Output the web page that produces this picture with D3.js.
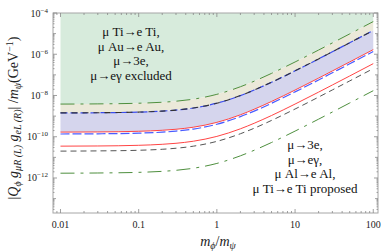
<!DOCTYPE html>
<html>
<head>
<meta charset="utf-8">
<script src="https://cdn.jsdelivr.net/npm/d3@7"></script>
<style>
  body { margin: 0; background: #fff; }
  svg { display: block; font-family: 'Liberation Serif', 'DejaVu Serif', serif; }
</style>
</head>
<body>
<div id="chart"></div>
<script>
// mass ratio m_phi / m_psi sampled along every curve
const ratio = [0.01, 0.03, 0.1, 0.2, 0.3, 0.5, 1, 2, 3, 5, 10, 20, 30, 50, 100];

// current limits (excluded)
const excludedDashDot = [3.84e-9, 3.92e-9, 4.22e-9, 4.71e-9, 5.28e-9, 6.65e-9, 1.14e-8, 2.66e-8, 4.94e-8, 1.18e-7, 4.22e-7, 1.6e-6, 3.54e-6, 9.7e-6, 3.84e-5];
const excludedDashed = [1.43e-9, 1.46e-9, 1.57e-9, 1.75e-9, 1.96e-9, 2.47e-9, 4.24e-9, 9.89e-9, 1.84e-8, 4.38e-8, 1.57e-7, 5.94e-7, 1.32e-6, 3.61e-6, 1.43e-5];
const excludedSolid = [1.68e-10, 1.71e-10, 1.84e-10, 2.06e-10, 2.31e-10, 2.9e-10, 4.98e-10, 1.16e-9, 2.16e-9, 5.14e-9, 1.84e-8, 6.98e-8, 1.55e-7, 4.24e-7, 1.68e-6];
const excludedBlue = [1.36e-10, 1.39e-10, 1.5e-10, 1.67e-10, 1.88e-10, 2.36e-10, 4.05e-10, 9.44e-10, 1.75e-9, 4.18e-9, 1.5e-8, 5.68e-8, 1.26e-7, 3.44e-7, 1.36e-6];

// future sensitivities (proposed)
const proposedSolid = [3.5e-11, 3.57e-11, 3.85e-11, 4.3e-11, 4.82e-11, 6.07e-11, 1.04e-10, 2.43e-10, 4.51e-10, 1.07e-9, 3.85e-9, 1.46e-8, 3.23e-8, 8.85e-8, 3.5e-7];
const proposedDashed = [2.01e-11, 2.06e-11, 2.21e-11, 2.47e-11, 2.77e-11, 3.49e-11, 5.98e-11, 1.4e-10, 2.59e-10, 6.18e-10, 2.21e-9, 8.39e-9, 1.86e-8, 5.09e-8, 2.01e-7];
const proposedDashDot = [1.71e-12, 1.75e-12, 1.88e-12, 2.1e-12, 2.36e-12, 2.97e-12, 5.09e-12, 1.19e-11, 2.21e-11, 5.26e-11, 1.88e-10, 7.14e-10, 1.58e-9, 4.34e-9, 1.71e-8];

const xMajor = [0.01, 0.1, 1, 10, 100];
const xMajorLabels = ['0.01', '0.1', '1', '10', '100'];
const yLabelExp = [-4, -6, -8, -10, -12];

const topNote = ['\u03bc Ti\u2192e Ti,', '\u03bc Au\u2192e Au,', '\u03bc\u21923e,', '\u03bc\u2192e\u03b3 excluded'];
const bottomNote = ['\u03bc\u21923e,', '\u03bc\u2192e\u03b3,', '\u03bc Al\u2192e Al,', '\u03bc Ti\u2192e Ti proposed'];

const W = 382;
const H = 252;
const margin = { top: 13, right: 4, bottom: 39, left: 53 };
const width = W - margin.left - margin.right;
const height = H - margin.top - margin.bottom;

const svg = d3.select('#chart').append('svg')
  .attr('width', W)
  .attr('height', H);

const g = svg.append('g')
  .attr('transform', `translate(${margin.left},${margin.top})`);

const x = d3.scaleLog()
  .domain([0.00802, 115])
  .range([0, width]);

const y = d3.scaleLog()
  .domain([Math.pow(10, -13.697), 1e-4])
  .range([height, 0]);

const pts = arr => ratio.map((r, i) => [r, arr[i]]);

const line = d3.line()
  .x(d => x(d[0]))
  .y(d => y(d[1]))
  .curve(d3.curveMonotoneX);

// shaded bands
const bandArea = (lo, hi) => d3.area()
  .x((d, i) => x(ratio[i]))
  .y0((d, i) => y(lo[i]))
  .y1((d, i) => (hi ? y(hi[i]) : 0))
  .curve(d3.curveMonotoneX)(ratio);

g.append('path').attr('d', bandArea(excludedDashDot, null)).attr('fill', '#d7ebdc');
g.append('path').attr('d', bandArea(excludedDashed, excludedDashDot)).attr('fill', '#ebe9d9');
g.append('path').attr('d', bandArea(excludedSolid, excludedDashed)).attr('fill', '#d5d5ed');

const curves = [
  { data: excludedDashDot, color: '#4e8f3e', dash: '14,6,3,6', w: 1 },
  { data: excludedDashed, color: '#3a4cf0', dash: '7,3', w: 1.2 },
  { data: excludedDashed, color: '#333', dash: '6,5', w: 1.1 },
  { data: excludedBlue, color: '#4a5cff', dash: '9,3', w: 1.2 },
  { data: excludedSolid, color: '#ff4545', dash: null, w: 1 },
  { data: proposedSolid, color: '#ff4545', dash: null, w: 1 },
  { data: proposedDashed, color: '#555', dash: '6,4', w: 1 },
  { data: proposedDashDot, color: '#4e8f3e', dash: '14,6,3,6', w: 1 },
];

curves.forEach((c) => {
  g.append('path')
    .attr('d', line(pts(c.data)))
    .attr('fill', 'none')
    .attr('stroke', c.color)
    .attr('stroke-width', c.w)
    .attr('stroke-dasharray', c.dash);
});

// minor ticks
const xMinor = [];
[0.001, 0.01, 0.1, 1, 10, 100].forEach((dec) => {
  for (let k = 2; k <= 9; k += 1) {
    const v = dec * k;
    if (v > x.domain()[0] && v < x.domain()[1]) xMinor.push(v);
  }
});
const yMinor = [];
for (let e = -14; e <= -5; e += 1) {
  for (let k = 2; k <= 9; k += 1) {
    const v = k * Math.pow(10, e);
    if (v > y.domain()[0] && v < y.domain()[1]) yMinor.push(v);
  }
}
const yMid = [-5, -7, -9, -11, -13].map(e => Math.pow(10, e));

const frame = g.append('g');
frame.append('rect')
  .attr('width', width)
  .attr('height', height)
  .attr('fill', 'none')
  .attr('stroke', '#a6a6a6')
  .attr('stroke-width', 1);

const tick = (x1, y1, x2, y2) => frame.append('line')
  .attr('x1', x1).attr('y1', y1).attr('x2', x2).attr('y2', y2)
  .attr('stroke', '#888').attr('stroke-width', 0.8);

xMajor.forEach((v) => {
  tick(x(v), height, x(v), height - 4);
  tick(x(v), 0, x(v), 4);
});
xMinor.forEach((v) => {
  tick(x(v), height, x(v), height - 2);
  tick(x(v), 0, x(v), 2);
});
yLabelExp.map(e => Math.pow(10, e)).forEach((v) => {
  tick(0, y(v), 4, y(v));
  tick(width, y(v), width - 4, y(v));
});
yMid.forEach((v) => {
  tick(0, y(v), 3, y(v));
  tick(width, y(v), width - 3, y(v));
});
yMinor.forEach((v) => {
  tick(0, y(v), 1.5, y(v));
  tick(width, y(v), width - 1.5, y(v));
});

// tick labels
g.append('g').selectAll('text')
  .data(xMajor)
  .join('text')
  .attr('x', d => x(d))
  .attr('y', height + 15)
  .attr('text-anchor', 'middle')
  .attr('font-size', 10)
  .attr('fill', '#222')
  .text((d, i) => xMajorLabels[i]);

const yl = g.append('g').selectAll('text')
  .data(yLabelExp)
  .join('text')
  .attr('x', -5)
  .attr('y', d => y(Math.pow(10, d)) + 3.5)
  .attr('text-anchor', 'end')
  .attr('font-size', 10)
  .attr('fill', '#222');
yl.append('tspan').text('10');
yl.append('tspan').attr('dy', -4).attr('font-size', 7).text(d => `\u2212${-d}`);

// axis titles
const xt = svg.append('text')
  .attr('x', 218)
  .attr('y', 246)
  .attr('text-anchor', 'middle')
  .attr('font-size', 14)
  .attr('font-style', 'italic')
  .attr('fill', '#222');
xt.append('tspan').text('m');
xt.append('tspan').attr('dy', 3).attr('font-size', 10).text('\u03d5');
xt.append('tspan').attr('dy', -3).attr('font-style', 'normal').text('/');
xt.append('tspan').text('m');
xt.append('tspan').attr('dy', 3).attr('font-size', 10).text('\u03c8');

const yt = svg.append('text')
  .attr('transform', 'translate(18,118) rotate(-90)')
  .attr('text-anchor', 'middle')
  .attr('font-size', 14)
  .attr('fill', '#222');
yt.append('tspan').text('|');
yt.append('tspan').attr('font-style', 'italic').text('Q');
yt.append('tspan').attr('dy', 3).attr('font-size', 10).attr('font-style', 'italic').text('\u03d5');
yt.append('tspan').attr('dy', -3).attr('font-style', 'italic').text(' g');
yt.append('tspan').attr('dy', 3).attr('font-size', 10).attr('font-style', 'italic').text('\u03bcR (L)');
yt.append('tspan').attr('dy', -3).attr('font-style', 'italic').text(' g');
yt.append('tspan').attr('dy', 3).attr('font-size', 10).attr('font-style', 'italic').text('eL (R)');
yt.append('tspan').attr('dy', -3).text('| /');
yt.append('tspan').attr('font-style', 'italic').text('m');
yt.append('tspan').attr('dy', 3).attr('font-size', 10).attr('font-style', 'italic').text('\u03c8');
yt.append('tspan').attr('dy', -3).text('(GeV');
yt.append('tspan').attr('dy', -5).attr('font-size', 10).text('\u22121');
yt.append('tspan').attr('dy', 5).text(')');

// annotations
const note = (lines, cx, y0, step) => {
  svg.append('g').selectAll('text')
    .data(lines)
    .join('text')
    .attr('x', cx)
    .attr('y', (d, i) => y0 + i * step)
    .attr('text-anchor', 'middle')
    .attr('font-size', 13)
    .attr('fill', '#111')
    .text(d => d);
};

note(topNote, 131, 36, 14.5);
note(bottomNote, 305, 149, 14.5);
</script>
</body>
</html>
